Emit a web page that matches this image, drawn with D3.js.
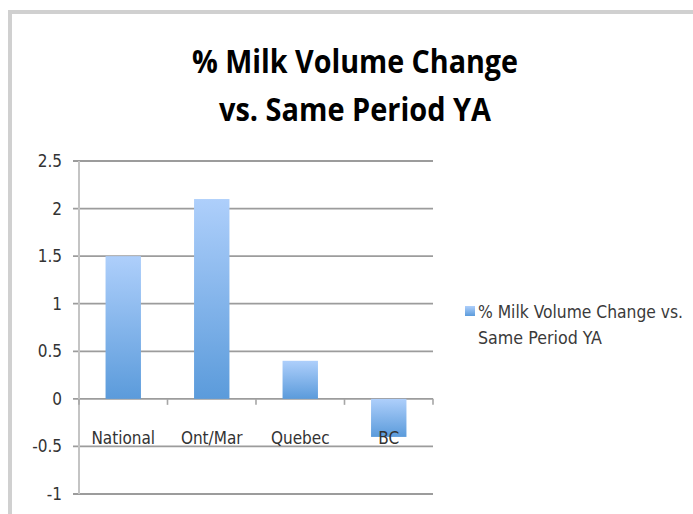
<!DOCTYPE html>
<html><head><meta charset="utf-8">
<script src="https://cdn.jsdelivr.net/npm/d3@7"></script>
<style>
html,body{margin:0;padding:0;background:#fff;}
svg{display:block;}
</style></head>
<body>
<script>
const categories = ["National", "Ont/Mar", "Quebec", "BC"];
const values = [1.5, 2.1, 0.4, -0.4];
const yTicks = [-1, -0.5, 0, 0.5, 1, 1.5, 2, 2.5];
const seriesName = "% Milk Volume Change vs. Same Period YA";
const titleLines = ["% Milk Volume Change", "vs. Same Period YA"];
const legendLines = ["% Milk Volume Change vs.", "Same Period YA"];

const W = 693, H = 514;
const svg = d3.select("body").append("svg").attr("width", W).attr("height", H);

const defs = svg.append("defs");
const grad = defs.append("linearGradient").attr("id", "barGrad")
  .attr("x1", 0).attr("y1", 0).attr("x2", 0).attr("y2", 1);
grad.append("stop").attr("offset", "0%").attr("stop-color", "#aecffb");
grad.append("stop").attr("offset", "100%").attr("stop-color", "#5b9bdb");

// outer frame
svg.append("rect").attr("x", 10).attr("y", 12).attr("width", W + 20).attr("height", H + 20)
  .attr("fill", "none").attr("stroke", "#d0d0d0").attr("stroke-width", 4);

const fontLabel = "'Liberation Sans Narrow','DejaVu Sans Condensed','Open Sans',sans-serif";

// title
const titleBase = [73, 121];
const titleWidths = [326, 272];
titleLines.forEach((t, i) => {
  svg.append("text").attr("x", 355).attr("y", titleBase[i])
    .attr("text-anchor", "middle")
    .attr("font-family", "'Open Sans','Liberation Sans',sans-serif")
    .attr("font-weight", "bold").attr("font-size", 32).attr("fill", "#000")
    .attr("textLength", titleWidths[i]).attr("lengthAdjust", "spacingAndGlyphs")
    .text(t);
});

const y = d3.scaleLinear().domain([-1, 2.5]).range([494, 161]);
const x = d3.scaleBand().domain(categories).range([79, 433]).paddingInner(0.6).paddingOuter(0.3);

// gridlines
const grid = svg.append("g");
grid.selectAll("line").data(yTicks).join("line")
  .attr("x1", 73).attr("x2", 433)
  .attr("y1", d => y(d)).attr("y2", d => y(d))
  .attr("stroke", "#9c9c9c").attr("stroke-width", 1.8);

// y axis line
svg.append("line").attr("x1", 79).attr("x2", 79).attr("y1", y(2.5)).attr("y2", y(-1))
  .attr("stroke", "#c4c4c4").attr("stroke-width", 2);

// y tick labels
svg.append("g").selectAll("text").data(yTicks).join("text")
  .attr("x", 62).attr("y", d => y(d)).attr("dy", "0.35em")
  .attr("text-anchor", "end").attr("font-family", fontLabel)
  .attr("font-size", 17).attr("fill", "#333")
  .text(d => String(d));

// category ticks at band boundaries on zero line
const bounds = d3.range(categories.length + 1).map(i => x.range()[0] + i * x.step());
svg.append("g").selectAll("line").data(bounds).join("line")
  .attr("x1", d => d).attr("x2", d => d).attr("y1", y(0)).attr("y2", y(0) + 6)
  .attr("stroke", "#a6a6a6").attr("stroke-width", 1.6);

// bars
svg.append("g").selectAll("rect").data(values).join("rect")
  .attr("x", (d, i) => x(categories[i]))
  .attr("width", x.bandwidth())
  .attr("y", d => y(Math.max(0, d)))
  .attr("height", d => Math.abs(y(d) - y(0)))
  .attr("fill", "url(#barGrad)");

// category labels
svg.append("g").selectAll("text").data(categories).join("text")
  .attr("x", d => x(d) + x.bandwidth() / 2).attr("y", 438).attr("dy", "0.35em")
  .attr("text-anchor", "middle").attr("font-family", fontLabel)
  .attr("font-size", 17).attr("fill", "#333")
  .text(d => d);

// legend
svg.append("rect").attr("x", 465).attr("y", 306).attr("width", 10).attr("height", 10)
  .attr("fill", "url(#barGrad)");
const legendY = [312, 338];
const legendWidths = [205, 124];
legendLines.forEach((t, i) => {
  svg.append("text").attr("x", 478).attr("y", legendY[i]).attr("dy", "0.35em")
    .attr("font-family", fontLabel).attr("font-size", 17).attr("fill", "#3a3a3a")
    .attr("textLength", legendWidths[i]).attr("lengthAdjust", "spacingAndGlyphs")
    .text(t);
});
</script>
</body></html>
